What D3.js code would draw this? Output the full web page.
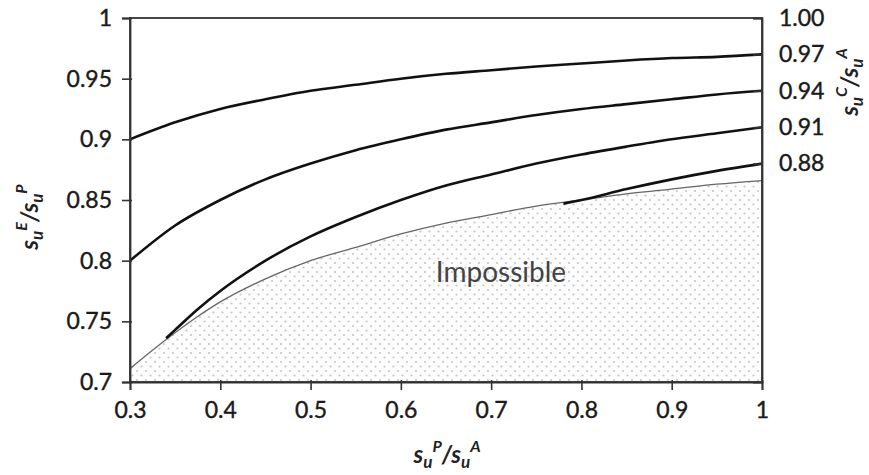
<!DOCTYPE html>
<html><head><meta charset="utf-8">
<script src="https://cdn.jsdelivr.net/npm/d3@7"></script>
<style>body{margin:0;background:#fff}svg{display:block}</style>
</head><body>
<script>
// data
const xTicks = [0.3,0.4,0.5,0.6,0.7,0.8,0.9,1];
const yTicksLeft = [0.7,0.75,0.8,0.85,0.9,0.95,1];
const yTicksRight = [0.88,0.91,0.94,0.97,1.00];
const curve097 = [[0.3,0.9],[0.35,0.914],[0.4,0.925],[0.45,0.933],[0.5,0.94],[0.55,0.945],[0.6,0.95],[0.65,0.954],[0.7,0.957],[0.75,0.96],[0.8,0.9625],[0.85,0.965],[0.9,0.967],[0.95,0.968],[1.0,0.97]];
const curve094 = [[0.3,0.8],[0.35,0.829],[0.4,0.85],[0.45,0.867],[0.5,0.88],[0.55,0.891],[0.6,0.9],[0.65,0.908],[0.7,0.914],[0.75,0.92],[0.8,0.925],[0.85,0.929],[0.9,0.933],[0.95,0.937],[1.0,0.94]];
const curve091 = [[0.34,0.736],[0.35,0.743],[0.375,0.76],[0.4,0.775],[0.45,0.8],[0.5,0.82],[0.55,0.836],[0.6,0.85],[0.65,0.862],[0.7,0.871],[0.75,0.88],[0.8,0.8875],[0.85,0.894],[0.9,0.9],[0.95,0.905],[1.0,0.91]];
const curve088 = [[0.78,0.847],[0.8,0.85],[0.85,0.859],[0.9,0.867],[0.95,0.874],[1.0,0.88]];
const boundary = [[0.3,0.711],[0.34,0.735],[0.375,0.754],[0.4,0.766],[0.45,0.785],[0.5,0.80],[0.55,0.811],[0.6,0.822],[0.65,0.831],[0.7,0.838],[0.75,0.845],[0.8,0.85],[0.85,0.855],[0.9,0.859],[0.95,0.863],[1.0,0.866]];

const W=869,H=475;
const svg=d3.select("body").append("svg").attr("width",W).attr("height",H);
const L=130,R=762,T=18,B=382;
const x=d3.scaleLinear().domain([0.3,1]).range([L,R]);
const y=d3.scaleLinear().domain([0.7,1]).range([B,T]);
const font="Lato, 'Open Sans', sans-serif";

const defs=svg.append("defs");
const pat=defs.append("pattern").attr("id","dots").attr("patternUnits","userSpaceOnUse").attr("width",9).attr("height",9);
pat.append("rect").attr("width",9).attr("height",9).attr("fill","#fdfdfd");
pat.append("circle").attr("cx",2).attr("cy",2).attr("r",1.1).attr("fill","#c8c8c8");
pat.append("circle").attr("cx",6.5).attr("cy",6.5).attr("r",1.1).attr("fill","#c8c8c8");
defs.append("clipPath").attr("id","clip").append("rect").attr("x",L).attr("y",T).attr("width",R-L).attr("height",B-T);

const g=svg.append("g").attr("clip-path","url(#clip)");
const area=d3.area().x(d=>x(d[0])).y0(y(0.7)).y1(d=>y(d[1])).curve(d3.curveMonotoneX);
g.append("path").datum(boundary).attr("d",area).attr("fill","url(#dots)");

g.append("text").attr("x",501).attr("y",282).attr("text-anchor","middle")
 .attr("font-family",font).attr("font-size",28).attr("fill","#444").text("Impossible");

const line=d3.line().x(d=>x(d[0])).y(d=>y(d[1])).curve(d3.curveMonotoneX);
g.append("path").datum(boundary).attr("d",line).attr("fill","none").attr("stroke","#666").attr("stroke-width",1.3);
[curve097,curve094,curve091,curve088].forEach(c=>{
  g.append("path").datum(c).attr("d",line).attr("fill","none").attr("stroke","#111").attr("stroke-width",2.6);
});

// frame
svg.append("rect").attr("x",L).attr("y",T).attr("width",R-L).attr("height",B-T).attr("fill","none").attr("stroke","#333").attr("stroke-width",1.8);

// left axis
const ya=svg.append("g").attr("transform",`translate(${L},0)`)
 .call(d3.axisLeft(y).tickValues(yTicksLeft).tickSize(8).tickPadding(10).tickFormat(d3.format("~g")));
// right axis
const yr=svg.append("g").attr("transform",`translate(${R},0)`)
 .call(d3.axisRight(y).tickValues(yTicksRight).tickSize(-9).tickPadding(17).tickFormat(d3.format(".2f")));
// bottom axis
const xa=svg.append("g").attr("transform",`translate(0,${B})`)
 .call(d3.axisBottom(x).tickValues(xTicks).tickSize(8).tickPadding(12).tickFormat(d3.format("~g")));
[ya,yr,xa].forEach(a=>{
  a.select(".domain").attr("stroke","#333").attr("stroke-width",1.8);
  a.selectAll(".tick line").attr("stroke","#333").attr("stroke-width",1.6);
  a.selectAll(".tick text").attr("font-family",font).attr("font-size",23).attr("fill","#1a1a1a")
   .attr("stroke","#1a1a1a").attr("stroke-width",0.4);
});
ya.selectAll(".tick line").attr("x2",-8).attr("x1",2);
xa.selectAll(".tick line").attr("y1",-2);

function title(sel,a,b){
  const t=sel.attr("font-family",font).attr("font-size",24).attr("font-weight","bold").attr("font-style","italic").attr("fill","#222");
  t.append("tspan").text("s");
  t.append("tspan").attr("font-size",17).attr("dy",5).text("u");
  t.append("tspan").attr("font-size",16).attr("dy",-16).text(a);
  t.append("tspan").attr("dy",11).text("/s");
  t.append("tspan").attr("font-size",17).attr("dy",5).text("u");
  t.append("tspan").attr("font-size",16).attr("dy",-16).text(b);
}
title(svg.append("text").attr("x",447).attr("y",463).attr("text-anchor","middle"),"P","A");
title(svg.append("text").attr("transform","translate(38,217) rotate(-90)").attr("text-anchor","middle"),"E","P");
title(svg.append("text").attr("transform","translate(858,82) rotate(-90)").attr("text-anchor","middle"),"C","A");
</script>
</body></html>
